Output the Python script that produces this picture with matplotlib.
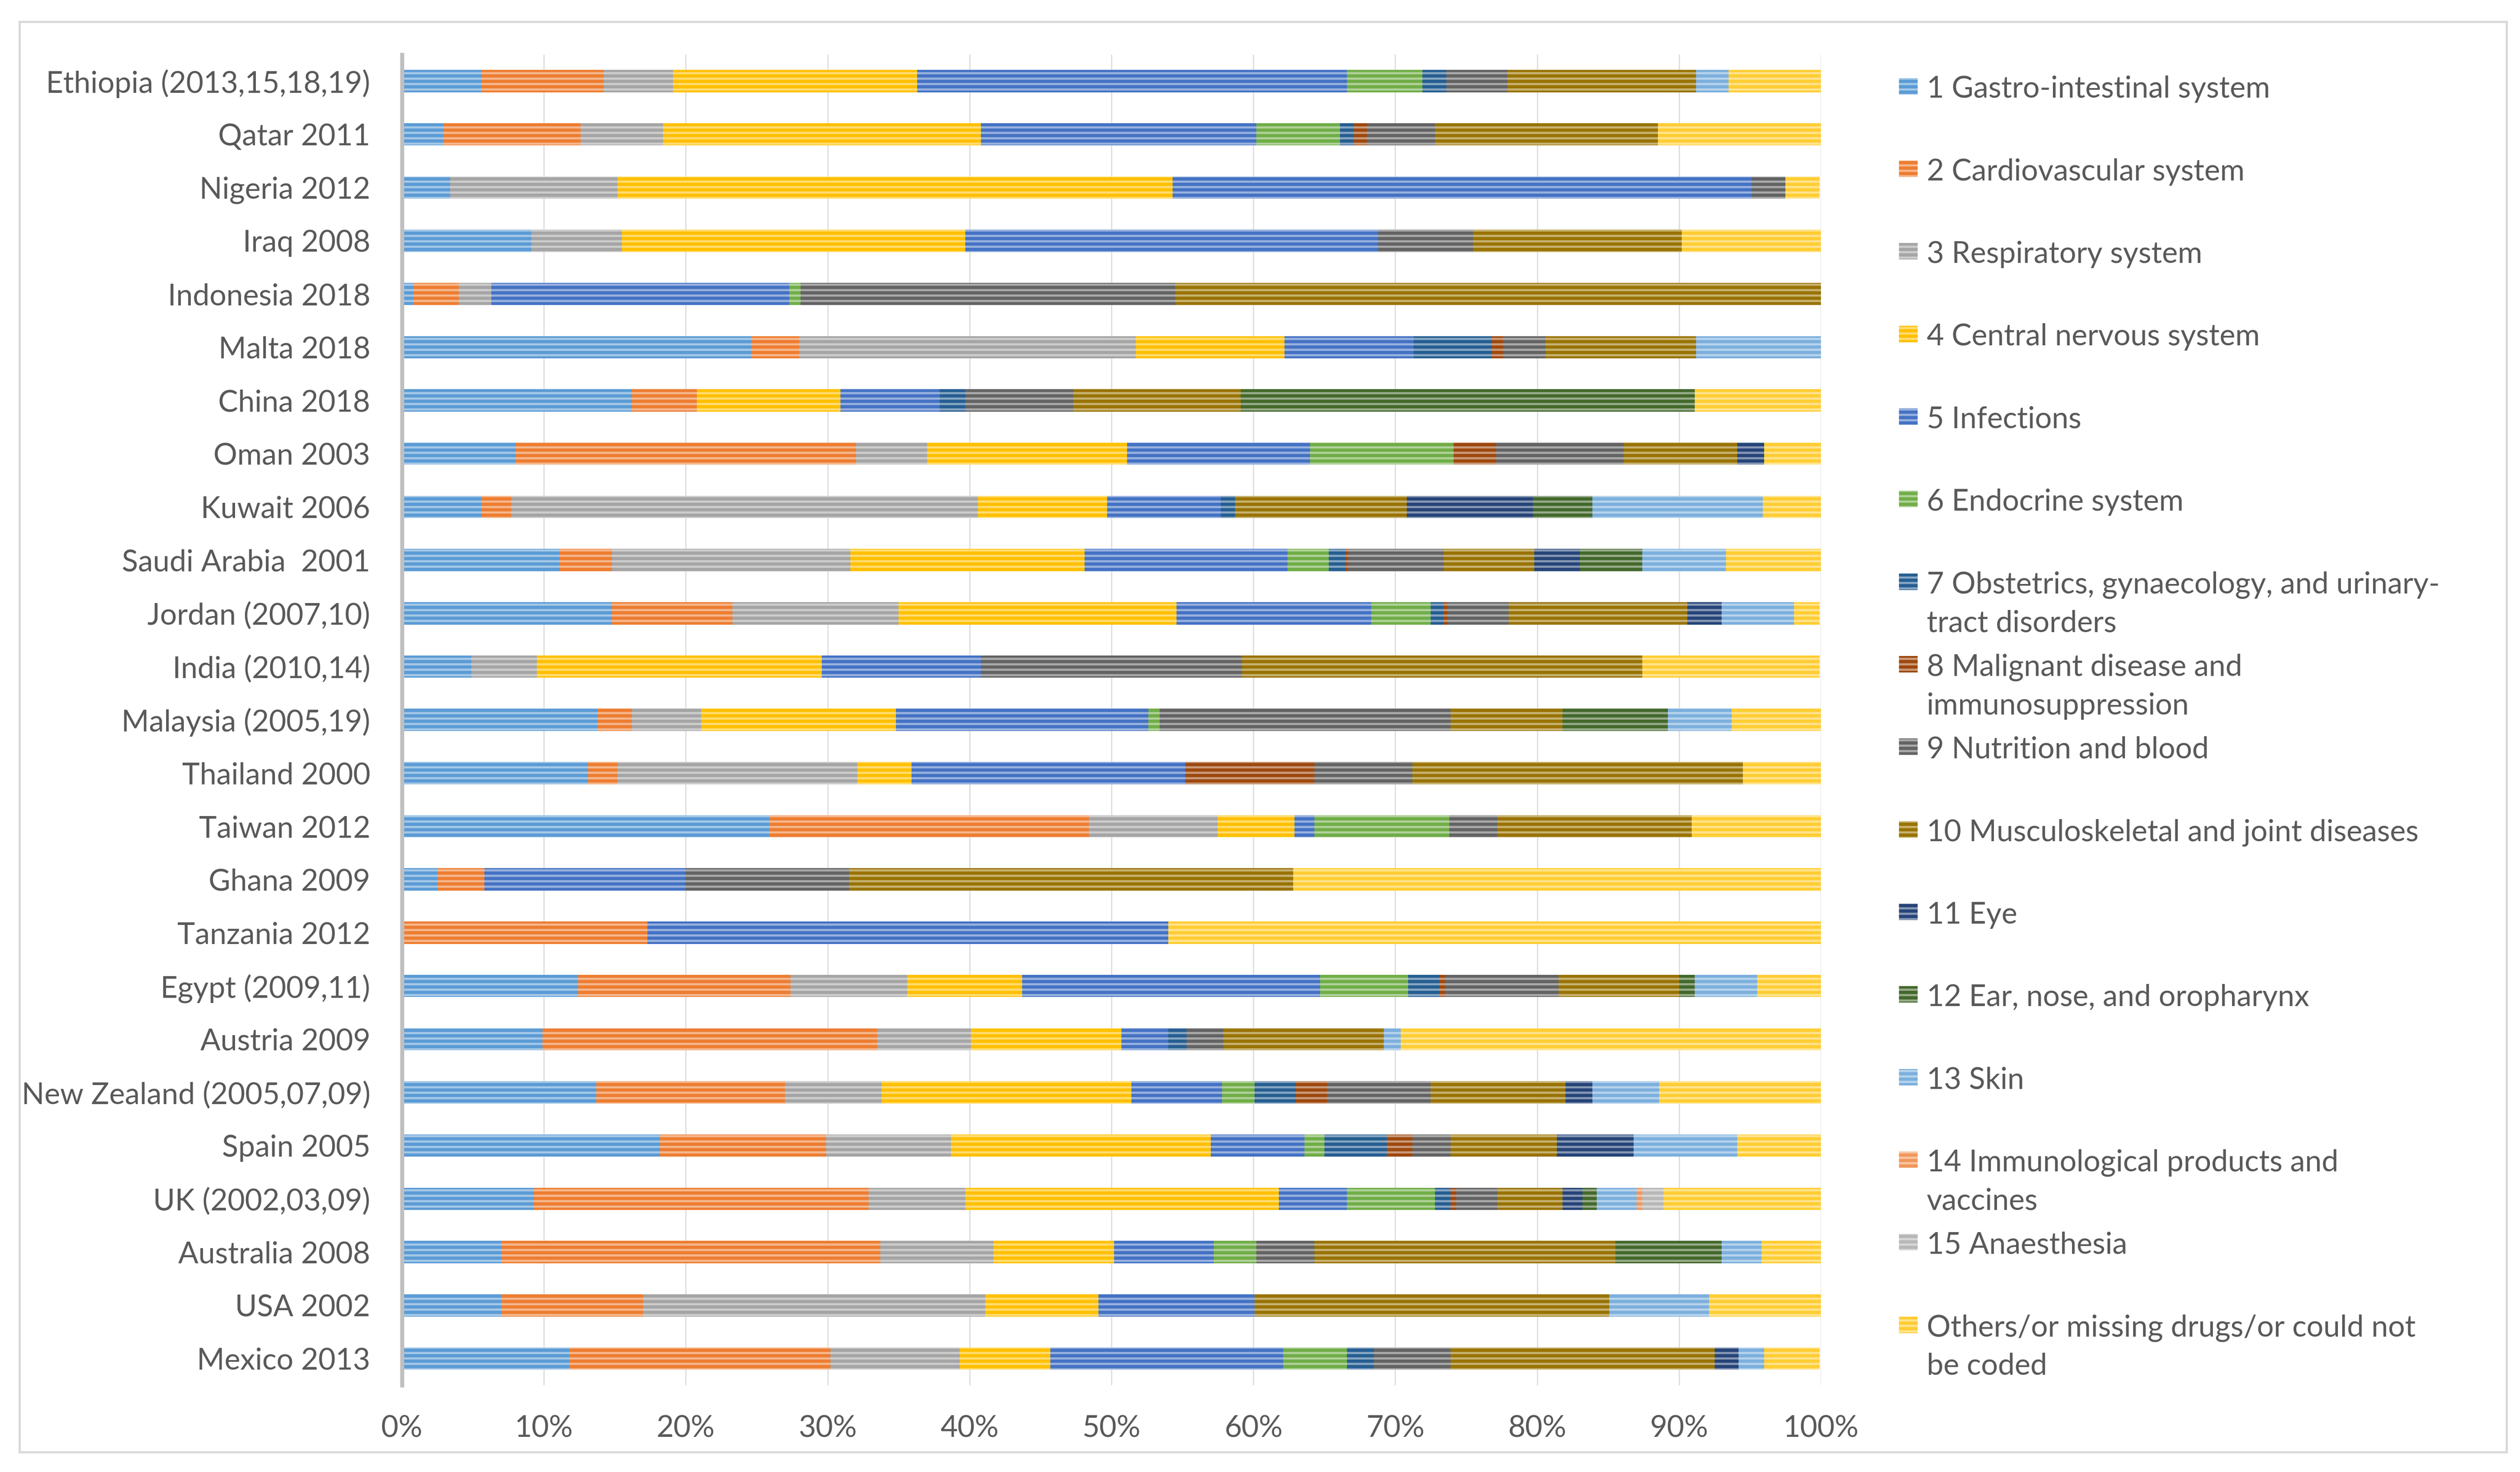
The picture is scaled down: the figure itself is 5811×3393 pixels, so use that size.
import numpy as np
import matplotlib
matplotlib.use("Agg")
import matplotlib.pyplot as plt
from matplotlib.patches import Rectangle

plt.rcParams['font.family'] = ['Lato', 'DejaVu Sans']
plt.rcParams['hatch.linewidth'] = 1.2

countries = [
    "Ethiopia (2013,15,18,19)", "Qatar 2011", "Nigeria 2012", "Iraq 2008",
    "Indonesia 2018", "Malta 2018", "China 2018", "Oman 2003", "Kuwait 2006",
    "Saudi Arabia  2001", "Jordan (2007,10)", "India (2010,14)",
    "Malaysia (2005,19)", "Thailand 2000", "Taiwan 2012", "Ghana 2009",
    "Tanzania 2012", "Egypt (2009,11)", "Austria 2009",
    "New Zealand (2005,07,09)", "Spain 2005", "UK (2002,03,09)",
    "Australia 2008", "USA 2002", "Mexico 2013",
]

# percentage of drugs per BNF chapter, one value per country (top to bottom)
gi = [5.6, 2.9, 3.4, 9.1, 0.8, 24.6, 16.2, 8.0, 5.6, 11.1, 14.8, 4.9, 13.8,
      13.1, 25.9, 2.5, 0, 12.4, 9.9, 13.7, 18.2, 9.3, 7.0, 7.0, 11.8]
cardio = [8.6, 9.7, 0, 0, 3.2, 3.4, 4.6, 24.0, 2.1, 3.7, 8.5, 0, 2.4, 2.1,
          22.5, 3.3, 17.3, 15.0, 23.6, 13.3, 11.7, 23.6, 26.7, 10.0, 18.4]
resp = [4.9, 5.8, 11.8, 6.4, 2.3, 23.7, 0, 5.0, 32.9, 16.8, 11.7, 4.6, 4.9,
        16.9, 9.1, 0, 0, 8.2, 6.6, 6.8, 8.8, 6.8, 8.0, 24.1, 9.1]
cns = [17.2, 22.4, 39.1, 24.2, 0, 10.5, 10.1, 14.1, 9.1, 16.5, 19.6, 20.1,
       13.7, 3.8, 5.4, 0, 0, 8.1, 10.6, 17.6, 18.3, 22.1, 8.5, 8.0, 6.4]
infect = [30.3, 19.4, 40.8, 29.1, 21.0, 9.1, 7.0, 12.9, 8.0, 14.3, 13.7, 11.2,
          17.8, 19.3, 1.4, 14.2, 36.7, 21.0, 3.3, 6.4, 6.6, 4.8, 7.0, 11.0, 16.4]
endo = [5.3, 5.9, 0, 0, 0.8, 0, 0, 10.1, 0, 2.9, 4.2, 0, 0.8, 0, 9.5, 0, 0,
        6.2, 0, 2.3, 1.4, 6.2, 3.0, 0, 4.5]
obst = [1.7, 1.0, 0, 0, 0, 5.5, 1.8, 0, 1.0, 1.2, 0.9, 0, 0, 0, 0, 0, 0, 2.2,
        1.3, 2.9, 4.4, 1.1, 0, 0, 1.9]
malig = [0, 0.9, 0, 0, 0, 0.8, 0, 3.0, 0, 0.2, 0.3, 0, 0, 9.1, 0, 0, 0, 0.4,
         0, 2.2, 1.8, 0.4, 0, 0, 0]
nutr = [4.3, 4.8, 2.4, 6.7, 26.4, 3.0, 7.6, 9.0, 0, 6.7, 4.3, 18.4, 20.5, 6.9,
        3.4, 11.5, 0, 8.0, 2.6, 7.3, 2.7, 2.9, 4.1, 0, 5.4]
musc = [13.3, 15.7, 0, 14.7, 45.5, 10.6, 11.8, 8.0, 12.1, 6.4, 12.6, 28.2, 7.9,
        23.3, 13.7, 31.3, 0, 8.5, 11.3, 9.5, 7.5, 4.6, 21.2, 25.0, 18.6]
eye = [0, 0, 0, 0, 0, 0, 0, 1.9, 8.9, 3.2, 2.4, 0, 0, 0, 0, 0, 0, 0, 0, 1.9,
       5.4, 1.4, 0, 0, 1.7]
ent = [0, 0, 0, 0, 0, 0, 32.0, 0, 4.2, 4.4, 0, 0, 7.4, 0, 0, 0, 0, 1.1, 0, 0,
       0, 1.0, 7.5, 0, 0]
skin = [2.3, 0, 0, 0, 0, 8.8, 0, 0, 12.0, 5.9, 5.1, 0, 4.5, 0, 0, 0, 0, 4.4,
        1.2, 4.7, 7.3, 2.8, 2.8, 7.0, 1.8]
immun = [0, 0, 0, 0, 0, 0, 0, 0, 0, 0, 0, 0, 0, 0, 0, 0, 0, 0, 0, 0, 0, 0.4,
         0, 0, 0]
anaes = [0, 0, 0, 0, 0, 0, 0, 0, 0, 0, 0, 0, 0, 0, 0, 0, 0, 0, 0, 0, 0, 1.5,
         0, 0, 0]
others = [6.5, 11.6, 2.4, 9.9, 0, 0, 8.9, 4.0, 4.1, 6.8, 1.8, 12.5, 6.3, 5.5,
          9.2, 37.2, 46.0, 4.6, 29.7, 11.5, 6.0, 11.1, 4.4, 8.0, 3.9]

labels = [
    "1 Gastro-intestinal system", "2 Cardiovascular system",
    "3 Respiratory system", "4 Central nervous system", "5 Infections",
    "6 Endocrine system",
    "7 Obstetrics, gynaecology, and urinary-\ntract disorders",
    "8 Malignant disease and\nimmunosuppression", "9 Nutrition and blood",
    "10 Musculoskeletal and joint diseases", "11 Eye",
    "12 Ear, nose, and oropharynx", "13 Skin",
    "14 Immunological products and\nvaccines", "15 Anaesthesia",
    "Others/or missing drugs/or could not\nbe coded",
]
series = [gi, cardio, resp, cns, infect, endo, obst, malig, nutr, musc, eye,
          ent, skin, immun, anaes, others]
colors = ["#5B9BD5", "#ED7D31", "#A5A5A5", "#FFC000", "#4472C4", "#70AD47",
          "#255E91", "#9E480E", "#636363", "#997300", "#264478", "#43682B",
          "#7CAFDD", "#F1975A", "#B7B7B7", "#FFCD33"]

text_color = "#595959"
stripe = (1, 1, 1, 0.45)
fsize = 16.5

fig = plt.figure(figsize=(5811 / 300, 3393 / 300), dpi=300)
ax = fig.add_axes([0.1595, 0.059, 0.5631, 0.904])

left = np.zeros(len(countries))
for vals, col, lab in zip(series, colors, labels):
    vals = np.array(vals, dtype=float)
    ax.barh(countries, vals, left=left, height=0.42, color=col,
            hatch="----", edgecolor=stripe, linewidth=0, label=lab, zorder=2)
    left += vals

ax.set_ylim(len(countries) - 0.5, -0.5)
ax.set_xlim(0, 100)
ax.set_xticks(np.arange(0, 101, 10))
ax.set_xticklabels([f"{t}%" for t in range(0, 101, 10)])
ax.grid(axis="x", color="#D9D9D9", linewidth=0.6, zorder=0)
ax.set_axisbelow(True)
for side in ["top", "right", "bottom"]:
    ax.spines[side].set_visible(False)
ax.spines["left"].set_color("#BFBFBF")
ax.spines["left"].set_linewidth(2.2)
ax.spines["left"].set_zorder(3)
ax.tick_params(axis="both", length=0, colors=text_color, labelsize=fsize)
ax.tick_params(axis="y", pad=17.5)
ax.tick_params(axis="x", pad=16.5)

# legend drawn by hand so every entry sits in an evenly spaced slot
y0, dy = 0.9414, 0.05609
for i, (lab, col) in enumerate(zip(labels, colors)):
    y = y0 - i * dy
    fig.add_artist(Rectangle((0.7536, y - 0.0056), 0.0074, 0.0112,
                             transform=fig.transFigure, facecolor=col,
                             hatch="----", edgecolor=stripe, linewidth=0))
    fig.text(0.7645, y + 0.0072, lab, ha="left", va="top", fontsize=fsize,
             color=text_color, linespacing=1.5)

# chart area border
fig.add_artist(Rectangle((0.0078, 0.0136), 0.9868, 0.9717,
                         transform=fig.transFigure, fill=False,
                         edgecolor="#D9D9D9", linewidth=1.2))

fig.savefig("out.png", dpi=300)
